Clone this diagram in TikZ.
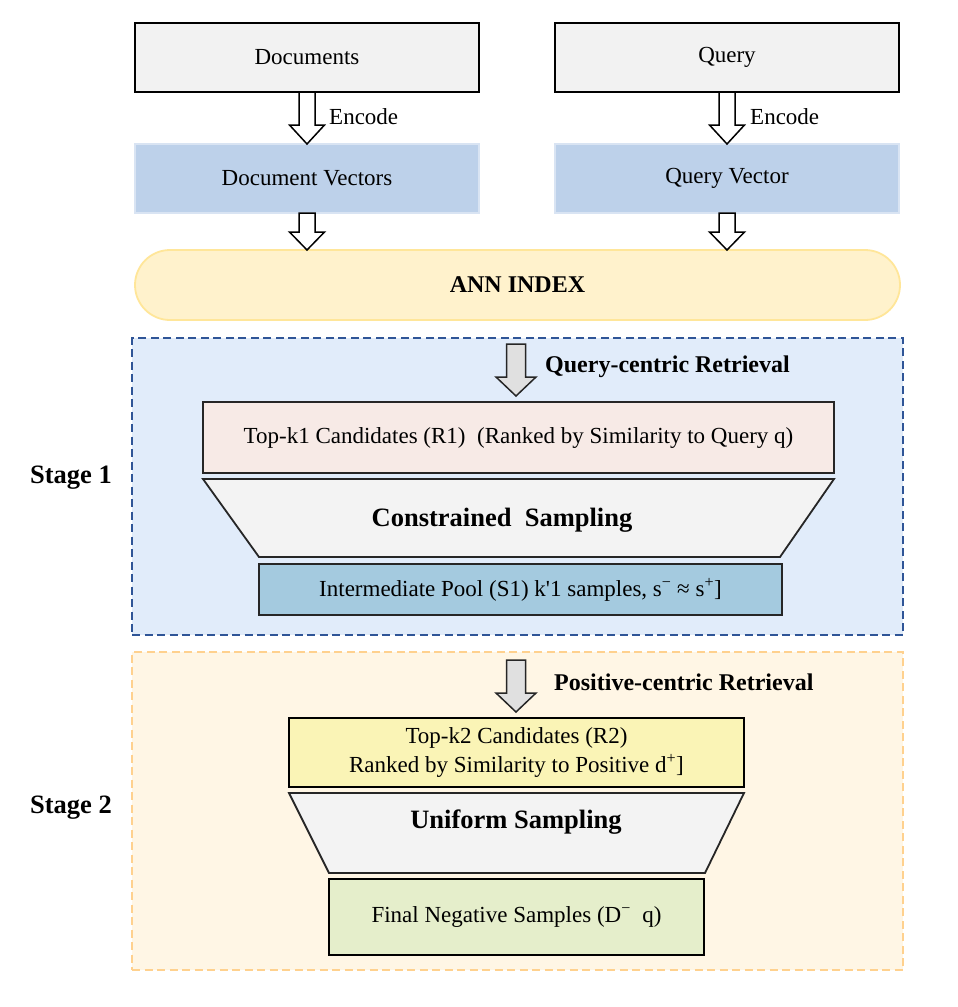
\documentclass[tikz,border=0pt]{standalone}
\usepackage{fontspec}
\setmainfont{Liberation Serif}[Ligatures=TeXOff]
\usetikzlibrary{calc}
\definecolor{docfill}{HTML}{F2F2F2}
\definecolor{vecfill}{HTML}{BDD1EA}
\definecolor{vecline}{HTML}{D9E4F3}
\definecolor{annfill}{HTML}{FFF2CC}
\definecolor{annline}{HTML}{FFE699}
\definecolor{sonefill}{HTML}{E1ECFA}
\definecolor{soneline}{HTML}{2F5597}
\definecolor{stwofill}{HTML}{FFF6E5}
\definecolor{stwoline}{HTML}{FFD18E}
\definecolor{topafill}{HTML}{F7EAE6}
\definecolor{trapfill}{HTML}{F3F3F3}
\definecolor{poolfill}{HTML}{A4CADF}
\definecolor{topbfill}{HTML}{FAF4B6}
\definecolor{finalfill}{HTML}{E5EECB}
\definecolor{grayarrow}{HTML}{E0E0E0}
\definecolor{darkline}{HTML}{262626}
\tikzset{
  txt/.style={font=\fontsize{23}{29}\selectfont, align=center},
  boldlbl/.style={font=\fontsize{24}{29}\selectfont\bfseries},
  biglbl/.style={font=\fontsize{26.5}{30}\selectfont\bfseries},
  box/.style={txt, draw=black, line width=1.8pt, inner sep=0pt, outer sep=0pt},
  vecbox/.style={txt, fill=vecfill, draw=vecline, line width=1.5pt, inner sep=0pt, outer sep=0pt},
  stagebox/.style={line width=2.7pt, dash pattern=on 8pt off 4.5pt, inner sep=0pt, outer sep=0pt},
  whitearrow/.style={fill=white, draw=black, line width=1.5pt, line join=miter},
  greyarrow/.style={fill=grayarrow, draw=darkline, line width=1.5pt, line join=miter},
  trap/.style={fill=trapfill, draw=darkline, line width=1.8pt, line join=miter}
}
\newcommand\blockarrow[6]{%
  \draw[#1] let \p1=(#2), \p2=(#3) in
    (\x1-#4,\y1) -- (\x1-#4,\y2+#6) -- (\x1-#5,\y2+#6) -- (\x1,\y2)
    -- (\x1+#5,\y2+#6) -- (\x1+#4,\y2+#6) -- (\x1+#4,\y1) -- cycle;}
\begin{document}
\begin{tikzpicture}[x=1pt,y=-1pt]
\useasboundingbox (0,0) rectangle (958,1007);
\fill[white] (0,0) rectangle (958,1007);

% stage backgrounds
\node[stagebox, fill=sonefill, draw=soneline, minimum width=771pt, minimum height=297pt] (s1) at (517.5,486.5) {};
\node[stagebox, fill=stwofill, draw=stwoline, minimum width=771pt, minimum height=318pt] (s2) at (517.5,811) {};
\node[biglbl] (st1) at (71,478) {Stage 1};
\node[biglbl] (st2) at (71,808) {Stage 2};

% top
\node[box, fill=docfill, minimum width=344pt, minimum height=69pt] (docs) at (307,57.5) {Documents};
\node[box, fill=docfill, minimum width=344pt, minimum height=69pt] (query) at (727,57.5) {Query};
\node[vecbox, minimum width=344pt, minimum height=69pt] (docvec) at (307,178.5) {Document Vectors};
\node[vecbox, minimum width=344pt, minimum height=69pt] (qvec) at (727,178.5) {Query Vector};
\node[fill=annfill, draw=annline, line width=1.8pt, rounded corners=35pt, minimum width=765pt, minimum height=70pt, inner sep=0pt, outer sep=0pt, boldlbl] (ann) at (517.5,285) {ANN INDEX};

\blockarrow{whitearrow}{docs.south}{docvec.north}{8pt}{17.5pt}{19pt}
\blockarrow{whitearrow}{query.south}{qvec.north}{8pt}{17.5pt}{19pt}
\node[txt, anchor=west, inner sep=0pt] (enc1) at (329,117) {Encode};
\node[txt, anchor=west, inner sep=0pt] (enc2) at (750,117) {Encode};
\blockarrow{whitearrow}{docvec.south}{docvec.south |- ann.north}{8pt}{17.5pt}{18pt}
\blockarrow{whitearrow}{qvec.south}{qvec.south |- ann.north}{8pt}{17.5pt}{18pt}

% stage 1
\node[box, fill=topafill, draw=darkline, minimum width=631pt, minimum height=71pt] (topk1) at (518.5,437.5) {Top-k1 Candidates (R1)\ \ (Ranked by Similarity to Query q)};
\node[box, fill=poolfill, draw=darkline, minimum width=523pt, minimum height=51pt] (pool) at (520.5,589.5) {Intermediate Pool (S1) k'1 samples, s\textsuperscript{−} ≈ s\textsuperscript{+}]};
\coordinate (g1s) at (516,344);
\blockarrow{greyarrow}{g1s}{$(g1s |- topk1.north)+(0,-6)$}{9.5pt}{20pt}{19pt}
\node[boldlbl, anchor=west, inner sep=0pt] (qcr) at (545,367) {Query-centric Retrieval};
\draw[trap] ($(topk1.south west)+(0,6)$) -- ($(topk1.south east)+(0,6)$) -- ($(pool.north east)+(-2,-7)$) -- ($(pool.north west)+(0,-7)$) -- cycle;
\node[biglbl] (cs) at (502,520) {Constrained\ \ Sampling};

% stage 2
\node[box, fill=topbfill, minimum width=455pt, minimum height=69pt] (topk2) at (516.5,752.5) {Top-k2 Candidates (R2)\\Ranked by Similarity to Positive d\textsuperscript{+}]};
\node[box, fill=finalfill, minimum width=375pt, minimum height=76pt] (final) at (516.5,917) {Final Negative Samples (D\textsuperscript{−}\ \ q)};
\coordinate (g2s) at (516,660);
\blockarrow{greyarrow}{g2s}{$(g2s |- topk2.north)+(0,-6)$}{9.5pt}{20pt}{19pt}
\node[boldlbl, anchor=west, inner sep=0pt] (pcr) at (554,682) {Positive-centric Retrieval};
\draw[trap] ($(topk2.south west)+(0,6)$) -- ($(topk2.south east)+(0,6)$) -- ($(final.north east)+(1,-6)$) -- ($(final.north west)+(0,-6)$) -- cycle;
\node[biglbl] (us) at (516,822) {Uniform Sampling};
\end{tikzpicture}
\end{document}
